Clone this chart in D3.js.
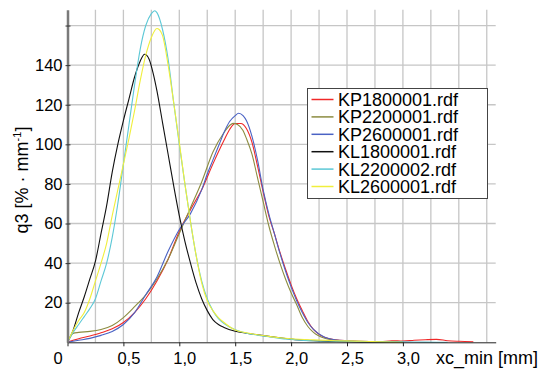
<!DOCTYPE html>
<html>
<head>
<meta charset="utf-8">
<script src="https://cdn.jsdelivr.net/npm/d3@7"></script>
<style>
  body { margin: 0; background: #fff; }
  svg { display: block; font-family: "Liberation Sans", Arial, sans-serif; }
</style>
</head>
<body>
<script>
// values: [xc_min in mm, q3 in %/mm]
const kp1800001 = [[0,0],[0.05,1],[0.1,1.8],[0.2,3.2],[0.3,4.8],[0.4,6.8],[0.5,10],[0.6,15],[0.7,22],[0.8,31],[0.9,42],[1.0,56],[1.1,67],[1.2,77],[1.3,90],[1.4,102],[1.45,107.5],[1.5,110.5],[1.55,110.5],[1.6,108],[1.65,101],[1.7,89],[1.75,76],[1.8,64],[1.85,55],[1.9,45.5],[1.95,37],[2.0,29],[2.05,22],[2.1,16],[2.15,10.5],[2.2,6.5],[2.25,4],[2.3,2.5],[2.4,1.3],[2.5,0.8],[2.6,0.5],[2.8,0.3],[2.9,0.8],[3.0,0.6],[3.1,1],[3.2,1.3],[3.3,1.5],[3.4,0.8],[3.5,0.5],[3.63,0.3]];
const kp2200001 = [[0,0],[0.05,4.5],[0.1,5],[0.2,5.5],[0.3,6.5],[0.4,8.5],[0.5,12.5],[0.6,18],[0.7,24],[0.8,32],[0.9,42],[1.0,55],[1.1,68],[1.2,81],[1.3,96],[1.4,106],[1.45,109.5],[1.48,110.6],[1.52,110],[1.57,107],[1.6,103],[1.65,95],[1.7,83],[1.75,71],[1.8,59],[1.85,49],[1.9,40],[1.95,32],[2.0,25],[2.05,19],[2.1,12.5],[2.15,8],[2.2,5],[2.3,2],[2.4,1],[2.5,0.6],[2.7,0.3],[3.0,0.1]];
const kp2600001 = [[0,0],[0.1,1],[0.2,2],[0.3,3.5],[0.4,5.5],[0.5,9],[0.6,15],[0.7,24],[0.8,33],[0.9,46],[1.0,57],[1.1,65],[1.2,77],[1.25,85],[1.3,92],[1.35,99],[1.4,106],[1.45,111.5],[1.5,114.5],[1.53,115.7],[1.57,114.5],[1.6,112],[1.65,104],[1.7,92],[1.75,77],[1.8,65],[1.85,55],[1.9,45],[1.95,36],[2.0,28],[2.05,21],[2.1,15],[2.15,10],[2.2,6.5],[2.3,2.5],[2.4,1.2],[2.5,0.8],[2.7,0.4],[3.0,0.2]];
const kl1800001 = [[0,0],[0.05,6],[0.1,15],[0.15,23],[0.2,32],[0.25,41],[0.3,55],[0.35,69],[0.4,86],[0.45,100],[0.5,112],[0.55,123],[0.6,134],[0.65,142],[0.69,145.5],[0.73,143],[0.77,135],[0.8,127],[0.85,111],[0.9,95],[0.95,79],[1.0,64],[1.05,51],[1.1,40],[1.15,30],[1.2,22],[1.25,16],[1.3,11.5],[1.35,9],[1.4,7.5],[1.5,5.6],[1.6,4.6],[1.7,3.8],[1.8,3],[1.9,2.3],[2.0,1.6],[2.2,0.8],[2.4,0.4],[2.6,0.2],[2.8,0.1],[3.0,0]];
const kl2200002 = [[0,0],[0.05,5],[0.1,9],[0.15,13],[0.2,17],[0.25,22],[0.3,31],[0.35,40],[0.4,53],[0.45,70],[0.5,90],[0.55,110],[0.6,130],[0.65,148],[0.7,160],[0.75,166],[0.78,167.5],[0.8,166.5],[0.85,158],[0.9,143],[0.95,121],[1.0,100],[1.05,80],[1.1,61],[1.15,44],[1.2,31],[1.25,22],[1.3,16],[1.35,12],[1.4,9.5],[1.5,6.3],[1.6,4.6],[1.7,3.6],[1.8,2.8],[1.9,2],[2.0,1.5],[2.2,0.8],[2.4,0.6],[2.6,0.4],[2.8,0.3],[3.0,0.2],[3.2,0.1],[3.4,0]];
const kl2600001 = [[0,0],[0.05,6],[0.1,11],[0.15,15],[0.2,22],[0.25,31],[0.3,40],[0.35,50],[0.4,64],[0.45,77],[0.5,90],[0.55,103],[0.6,117],[0.65,132],[0.7,145],[0.75,154],[0.8,158.5],[0.82,158],[0.85,155],[0.9,140],[0.95,121],[1.0,101],[1.05,80],[1.1,61],[1.15,44],[1.2,30],[1.25,21],[1.3,16],[1.35,12.5],[1.4,10],[1.5,6.2],[1.6,4.8],[1.7,3.8],[1.8,3],[1.9,2.3],[2.0,1.8],[2.2,1.2],[2.4,0.8],[2.6,0.6],[2.7,0.4],[2.8,0.2],[3.0,0]];

const seriesNames = ["KP1800001.rdf", "KP2200001.rdf", "KP2600001.rdf", "KL1800001.rdf", "KL2200002.rdf", "KL2600001.rdf"];
const seriesData = [kp1800001, kp2200001, kp2600001, kl1800001, kl2200002, kl2600001];
const seriesColors = ["#f02828", "#8c8c40", "#4a62c4", "#101010", "#5cc8d6", "#f0ef3c"];

const xTicks = [0, 0.5, 1.0, 1.5, 2.0, 2.5, 3.0];
const xGrid = d3.range(0.25, 3.8, 0.25);
const yTicks = [20, 40, 60, 80, 100, 120, 140, 160];
const yLabels = [20, 40, 60, 80, 100, 120, 140];

const W = 540, H = 369;
const svg = d3.select("body").append("svg")
  .attr("width", W)
  .attr("height", H);

const x = d3.scaleLinear().domain([0, 3.83]).range([67.5, 495.7]);
const y = d3.scaleLinear().domain([0, 168]).range([342.3, 9.7]);

// grid
svg.append("g").selectAll("line").data(xGrid).join("line")
  .attr("x1", d => x(d)).attr("x2", d => x(d))
  .attr("y1", y(168)).attr("y2", y(0))
  .attr("stroke", "#c6c6c6").attr("stroke-width", 1.3);
svg.append("g").selectAll("line").data(yTicks).join("line")
  .attr("x1", x(0)).attr("x2", x(3.83))
  .attr("y1", d => y(d)).attr("y2", d => y(d))
  .attr("stroke", "#c6c6c6").attr("stroke-width", 1.3);

// curves
const line = d3.line()
  .x(d => x(d[0]))
  .y(d => y(d[1]))
  .curve(d3.curveMonotoneX);

svg.append("g").selectAll("path").data(seriesData).join("path")
  .attr("d", d => line(d))
  .attr("fill", "none")
  .attr("stroke", (d, i) => seriesColors[i])
  .attr("stroke-width", 1.1);

// x axis
const axeX = d3.axisBottom(x).tickValues(xTicks).tickSize(4).tickSizeOuter(0)
  .tickFormat(d => d === 0 ? "0" : d3.format(".1f")(d).replace(".", ","));
const groupeX = svg.append("g")
  .attr("transform", `translate(0, ${y(0)})`)
  .call(axeX);
groupeX.select(".domain").attr("stroke", "#222");
groupeX.selectAll(".tick line").attr("stroke", "#222");
groupeX.selectAll("text")
  .style("font-size", "16.5px")
  .attr("fill", "#000")
  .attr("y", 10)
  .attr("dx", d => d === 0 ? -10 : 5);

// y axis
const axeY = d3.axisLeft(y).tickValues(yTicks).tickSize(2).tickSizeOuter(0)
  .tickFormat(d => yLabels.includes(d) ? d : "");
const groupeY = svg.append("g")
  .attr("transform", `translate(${x(0)}, 0)`)
  .call(axeY);
groupeY.select(".domain").attr("stroke", "#7a7a7a").attr("stroke-width", 2.5);
groupeY.selectAll(".tick line").attr("x2", 3).attr("x1", -2).attr("stroke", "#333");
groupeY.selectAll("text")
  .style("font-size", "16.5px")
  .attr("fill", "#000")
  .attr("x", -5);

// axis titles
svg.append("text")
  .attr("x", 538).attr("y", 364)
  .attr("text-anchor", "end")
  .style("font-size", "18px")
  .text("xc_min [mm]");

const yt = svg.append("text")
  .attr("transform", "translate(28, 180) rotate(-90)")
  .attr("text-anchor", "middle")
  .style("font-size", "18px");
yt.append("tspan").text("q3 [% · mm");
yt.append("tspan").attr("dy", -7).style("font-size", "11px").text("-1");
yt.append("tspan").attr("dy", 7).text("]");

// legend
const lg = svg.append("g");
lg.append("rect")
  .attr("x", 307.5).attr("y", 88.5)
  .attr("width", 180).attr("height", 110)
  .attr("fill", "#fff").attr("stroke", "#444");
const rows = lg.selectAll("g.row").data(seriesNames).join("g")
  .attr("class", "row")
  .attr("transform", (d, i) => `translate(0, ${99.5 + i * 17.4})`);
rows.append("line")
  .attr("x1", 311.5).attr("x2", 333.5)
  .attr("stroke", (d, i) => seriesColors[i])
  .attr("stroke-width", 1.5);
rows.append("text")
  .attr("x", 338).attr("y", 6.5)
  .style("font-size", "18px")
  .text(d => d);
</script>
</body>
</html>
